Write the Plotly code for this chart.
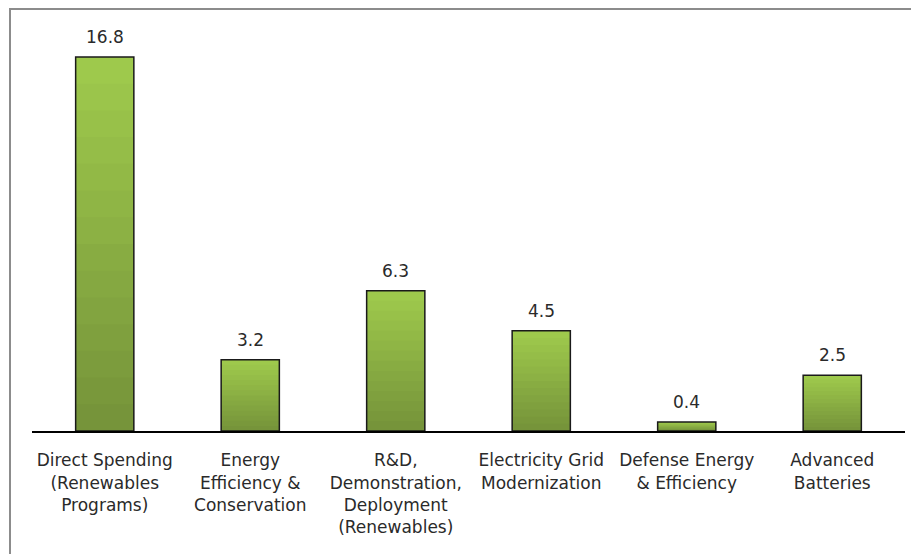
import plotly.graph_objects as go

categories = [
    "Direct Spending<br>(Renewables<br>Programs)",
    "Energy<br>Efficiency &<br>Conservation",
    "R&D,<br>Demonstration,<br>Deployment<br>(Renewables)",
    "Electricity Grid<br>Modernization",
    "Defense Energy<br>& Efficiency",
    "Advanced<br>Batteries",
]
values = [16.8, 3.2, 6.3, 4.5, 0.4, 2.5]
value_labels = ["16.8", "3.2", "6.3", "4.5", "0.4", "2.5"]

top_rgb = (158, 201, 76)
bottom_rgb = (118, 148, 58)
steps = 14
FONT = "DejaVu Sans"

fig = go.Figure()
# vertical gradient: stacked overlays, lighter at top, darker toward the base
for i in range(steps):
    frac = 1 - i / steps
    t = i / (steps - 1)
    c = tuple(round(top_rgb[k] + (bottom_rgb[k] - top_rgb[k]) * t) for k in range(3))
    fig.add_trace(go.Bar(
        x=categories, y=[v * frac for v in values],
        marker=dict(color=f"rgb{c}", line=dict(width=0)),
        hoverinfo="skip", showlegend=False,
    ))
# outline
fig.add_trace(go.Bar(
    x=categories, y=values,
    marker=dict(color="rgba(0,0,0,0)", line=dict(color="#1a1a1a", width=1.5)),
    showlegend=False,
))

annotations = [
    dict(x=c, y=v, text=lab, showarrow=False, xref="x", yref="y",
         yanchor="bottom", yshift=8,
         font=dict(family=FONT, size=17, color="#2a2a2a"))
    for c, v, lab in zip(categories, values, value_labels)
]

fig.update_layout(
    width=919, height=554,
    margin=dict(l=24, r=22, t=12, b=131),
    barmode="overlay", bargap=0.6,
    plot_bgcolor="white", paper_bgcolor="white",
    font=dict(family=FONT, size=17, color="#2a2a2a"),
    xaxis=dict(showline=True, linecolor="black", linewidth=2, ticks="",
               showgrid=False, ticklabelstandoff=13,
               tickfont=dict(family=FONT, size=17, color="#2a2a2a"),
               fixedrange=True, automargin=False),
    yaxis=dict(visible=False, range=[0, 18.46], showgrid=False),
    annotations=annotations,
    shapes=[dict(type="rect", xref="paper", yref="paper",
                 x0=-0.0252, y0=-0.4, x1=1.05, y1=1.0268,
                 line=dict(color="#8c8c8c", width=2), fillcolor="rgba(0,0,0,0)",
                 layer="below")],
)

fig.write_html("out.html")
